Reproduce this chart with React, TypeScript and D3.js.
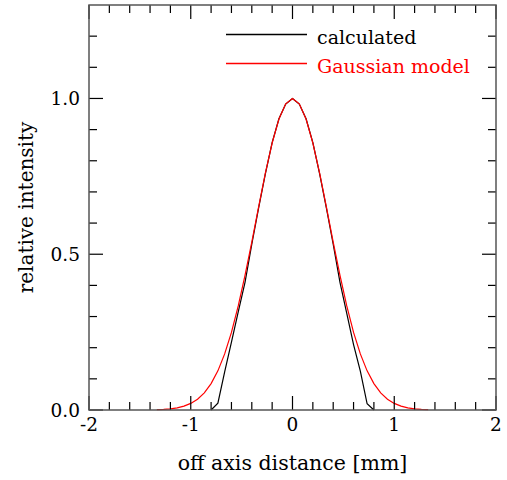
import React from "react";
import * as d3 from "d3";

// calculated profile, sampled every 1/15 mm
const calcX = [
  -0.8, -0.7333, -0.6667, -0.6, -0.5333, -0.4667, -0.4, -0.3333, -0.2667, -0.2, -0.1333, -0.0667,
  0, 0.0667, 0.1333, 0.2, 0.2667, 0.3333, 0.4, 0.4667, 0.5333, 0.6, 0.6667, 0.7333, 0.8,
];
const calcY = [
  0.0, 0.022, 0.122, 0.218, 0.315, 0.41, 0.532, 0.648, 0.758, 0.858, 0.935, 0.982,
  1.0, 0.982, 0.935, 0.858, 0.758, 0.648, 0.532, 0.41, 0.31, 0.21, 0.125, 0.02, 0.0,
];

// Gaussian model
const gaussX = [
  -1.3333, -1.2667, -1.2, -1.1333, -1.0667, -1.0, -0.9333, -0.8667, -0.8, -0.7333, -0.6667,
  -0.6, -0.5333, -0.4667, -0.4, -0.3333, -0.2667, -0.2, -0.1333, -0.0667, 0,
  0.0667, 0.1333, 0.2, 0.2667, 0.3333, 0.4, 0.4667, 0.5333, 0.6, 0.6667,
  0.7333, 0.8, 0.8667, 0.9333, 1.0, 1.0667, 1.1333, 1.2, 1.2667, 1.3333,
];
const gaussY = [
  0.001, 0.002, 0.0039, 0.007, 0.0124, 0.0211, 0.0347, 0.0551, 0.0847, 0.1256, 0.18,
  0.249, 0.334, 0.432, 0.539, 0.651, 0.76, 0.857, 0.934, 0.983, 1.0,
  0.983, 0.934, 0.857, 0.76, 0.651, 0.539, 0.432, 0.334, 0.249, 0.18,
  0.1256, 0.0847, 0.0551, 0.0347, 0.0211, 0.0124, 0.007, 0.0039, 0.002, 0.001,
];

const xMajor = [-2, -1, 0, 1, 2];
const xMajorLabels = ["-2", "-1", "0", "1", "2"];
const yMajor = [0, 0.5, 1.0];
const yMajorLabels = ["0.0", "0.5", "1.0"];

const seriesNames = ["calculated", "Gaussian model"];
const seriesColors = ["#000000", "#ff0000"];

const W = 507;
const H = 480;
const L = 89;
const R = 496;
const T = 5;
const B = 410;
const FONT = "'DejaVu Serif', serif";

export default function App() {
  const x = d3.scaleLinear().domain([-2, 2]).range([L, R]);
  const y = d3.scaleLinear().domain([0, 1.3]).range([B, T]);

  const xMinor = d3.range(-20, 21, 2).map((v) => v / 10).filter((v) => !xMajor.some((m) => Math.abs(m - v) < 1e-9));
  const yMinor = d3.range(1, 13).map((v) => v / 10).filter((v) => !yMajor.some((m) => Math.abs(m - v) < 1e-9));

  const line = d3
    .line<[number, number]>()
    .x((d) => x(d[0]))
    .y((d) => y(d[1]));

  const calc = calcX.map((v, i) => [v, calcY[i]] as [number, number]);
  const gauss = gaussX.map((v, i) => [v, gaussY[i]] as [number, number]);

  const maj = 14;
  const min = 8;

  return (
    <svg
      width={W}
      height={H}
      style={{ position: "absolute", left: 0, top: 0, background: "#fff" }}
      fontFamily={FONT}
    >
      {/* curves */}
      <path d={line(calc) || ""} fill="none" stroke={seriesColors[0]} strokeWidth={1.2} />
      <path d={line(gauss) || ""} fill="none" stroke={seriesColors[1]} strokeWidth={1.2} />

      {/* ticks */}
      <g stroke="#000" strokeWidth={1.2}>
        {xMajor.map((v) => (
          <g key={"xm" + v}>
            <line x1={x(v)} x2={x(v)} y1={B} y2={B - maj} />
            <line x1={x(v)} x2={x(v)} y1={T} y2={T + maj} />
          </g>
        ))}
        {xMinor.map((v) => (
          <g key={"xn" + v}>
            <line x1={x(v)} x2={x(v)} y1={B} y2={B - min} />
            <line x1={x(v)} x2={x(v)} y1={T} y2={T + min} />
          </g>
        ))}
        {yMajor.map((v) => (
          <g key={"ym" + v}>
            <line x1={L} x2={L + maj} y1={y(v)} y2={y(v)} />
            <line x1={R} x2={R - maj} y1={y(v)} y2={y(v)} />
          </g>
        ))}
        {yMinor.map((v) => (
          <g key={"yn" + v}>
            <line x1={L} x2={L + min} y1={y(v)} y2={y(v)} />
            <line x1={R} x2={R - min} y1={y(v)} y2={y(v)} />
          </g>
        ))}
      </g>

      {/* frame */}
      <rect x={L} y={T} width={R - L} height={B - T} fill="none" stroke="#555" strokeWidth={1.5} />

      {/* tick labels */}
      {xMajor.map((v, i) => (
        <text key={"xl" + v} x={x(v)} y={431} textAnchor="middle" fontSize={18.5} fill="#000">
          {xMajorLabels[i]}
        </text>
      ))}
      {yMajor.map((v, i) => (
        <text key={"yl" + v} x={80} y={y(v) + 6.5} textAnchor="end" fontSize={18.5} fill="#000">
          {yMajorLabels[i]}
        </text>
      ))}

      {/* axis titles */}
      <text x={(L + R) / 2} y={470} textAnchor="middle" fontSize={20.5} fill="#000">
        off axis distance [mm]
      </text>
      <text
        transform={`translate(33, ${(T + B) / 2}) rotate(-90)`}
        textAnchor="middle"
        fontSize={20}
        fill="#000"
      >
        relative intensity
      </text>

      {/* legend */}
      {seriesNames.map((n, i) => (
        <g key={n}>
          <line x1={226} x2={307} y1={34.5 + i * 29} y2={34.5 + i * 29} stroke={seriesColors[i]} strokeWidth={1.3} />
          <text x={317} y={43.5 + i * 29} fontSize={19} fill={seriesColors[i]}>
            {n}
          </text>
        </g>
      ))}
    </svg>
  );
}
